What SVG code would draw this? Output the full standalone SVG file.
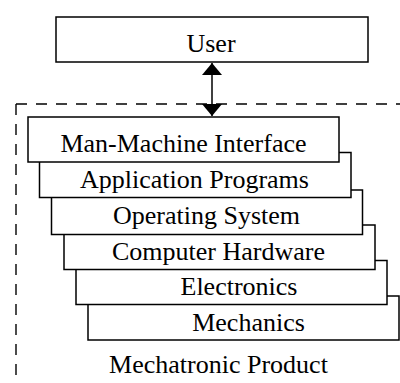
<svg xmlns="http://www.w3.org/2000/svg" width="400" height="383" viewBox="0 0 400 383">
<defs>
<style>
.box{fill:#fff;stroke:#000;stroke-width:1.5}
.lbl{font-family:"Liberation Serif","Times New Roman",serif;font-size:26px;fill:#000;text-anchor:middle}
.dash{fill:none;stroke:#000;stroke-width:1.4;stroke-dasharray:11 9}
</style>
<marker id="ah" viewBox="0 0 12 20" refX="12" refY="10" markerWidth="12" markerHeight="20" markerUnits="userSpaceOnUse" orient="auto-start-reverse">
<path d="M0,0 L12,10 L0,20 Z" fill="#000"/>
</marker>
</defs>
<rect width="400" height="383" fill="#fff"/>
<g id="mechatronic-product">
<path class="dash" d="M16,104 V383"/>
<path class="dash" d="M16,104 H400"/>
<text class="lbl" x="218.5" y="373">Mechatronic Product</text>
</g>
<g id="user">
<rect class="box" x="56" y="17" width="312" height="45"/>
<text class="lbl" x="211" y="52">User</text>
</g>
<g id="mechanics">
<rect class="box" x="88" y="296" width="311" height="44"/>
<text class="lbl" x="248.5" y="330.5">Mechanics</text>
</g>
<g id="electronics">
<rect class="box" x="76" y="260.5" width="311" height="44"/>
<text class="lbl" x="239" y="295">Electronics</text>
</g>
<g id="computer-hardware">
<rect class="box" x="64" y="225" width="311" height="44.5"/>
<text class="lbl" x="218.5" y="259.5">Computer Hardware</text>
</g>
<g id="operating-system">
<rect class="box" x="51.5" y="190" width="311" height="44.5"/>
<text class="lbl" x="206.5" y="224">Operating System</text>
</g>
<g id="application-programs">
<rect class="box" x="39.5" y="152.5" width="311.5" height="45"/>
<text class="lbl" x="194.5" y="187.5">Application Programs</text>
</g>
<g id="man-machine-interface">
<rect class="box" x="28" y="117" width="311" height="45"/>
<text class="lbl" x="183.5" y="152">Man-Machine Interface</text>
</g>
<g id="connectors">
<line x1="212" y1="63" x2="212" y2="116" stroke="#000" stroke-width="1.5" marker-start="url(#ah)" marker-end="url(#ah)"/>
</g>
</svg>
